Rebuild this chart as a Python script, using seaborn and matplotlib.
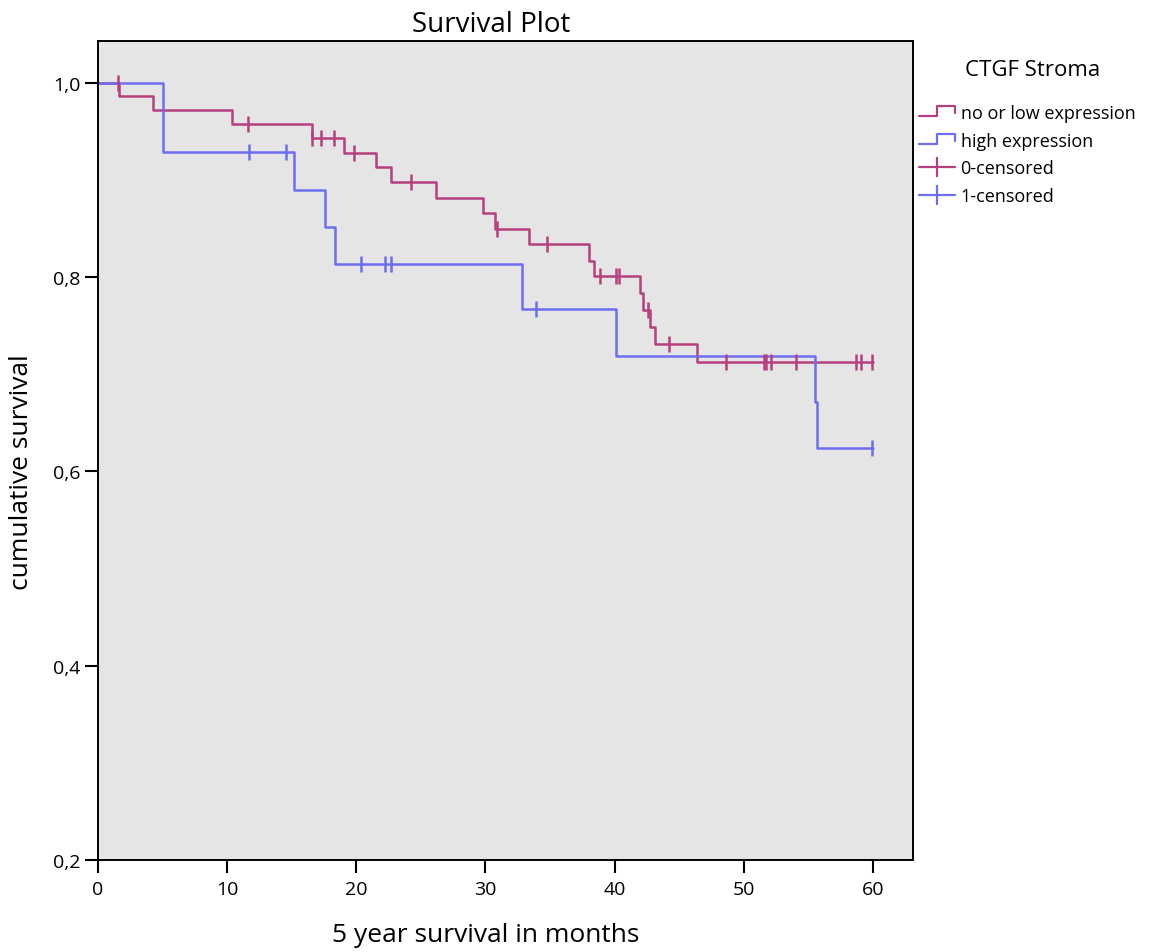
import numpy as np
import pandas as pd
import matplotlib
matplotlib.use("Agg")
import matplotlib.pyplot as plt
import seaborn as sns
from matplotlib.lines import Line2D
from matplotlib.legend_handler import HandlerBase

# ---- data ----
groups = ["no or low expression", "high expression"]

low_times = [0, 1.65, 4.28, 10.35, 16.6, 19.04, 21.5, 22.7, 26.2, 29.8, 30.7,
             33.4, 38.0, 38.4, 41.97, 42.2, 42.7, 43.1, 46.4, 60.0]
low_surv = [1.0, 0.986, 0.9715, 0.958, 0.9434, 0.928, 0.913, 0.8978, 0.881, 0.866,
            0.8497, 0.834, 0.817, 0.8013, 0.7838, 0.7666, 0.7485, 0.731, 0.7124, 0.7124]
low_censored = [1.57, 11.6, 16.6, 17.3, 18.3, 19.8, 24.2, 30.9, 34.8, 38.86, 40.1,
                40.3, 42.6, 44.2, 48.6, 51.55, 51.7, 52.07, 54.05, 58.7, 59.1, 59.9]

high_times = [0, 5.06, 15.17, 17.6, 18.37, 32.85, 40.1, 55.5, 55.7, 60.0]
high_surv = [1.0, 0.929, 0.89, 0.8514, 0.813, 0.7673, 0.719, 0.671, 0.624, 0.624]
high_censored = [11.7, 14.55, 20.4, 22.2, 22.7, 33.9, 59.9]

x_ticks = [0, 10, 20, 30, 40, 50, 60]
y_ticks = [0.2, 0.4, 0.6, 0.8, 1.0]
y_tick_labels = ["0,2", "0,4", "0,6", "0,8", "1,0"]

colors = {"no or low expression": "#b63f7e", "high expression": "#6e6ef2"}


def level_at(times, surv, t):
    idx = np.searchsorted(times, t, side="right") - 1
    return surv[idx]


curves = pd.concat([
    pd.DataFrame({"time": low_times, "surv": low_surv, "group": groups[0]}),
    pd.DataFrame({"time": high_times, "surv": high_surv, "group": groups[1]}),
], ignore_index=True)

cens = pd.concat([
    pd.DataFrame({"time": low_censored,
                  "surv": [level_at(low_times, low_surv, t) for t in low_censored],
                  "group": groups[0]}),
    pd.DataFrame({"time": high_censored,
                  "surv": [level_at(high_times, high_surv, t) for t in high_censored],
                  "group": groups[1]}),
], ignore_index=True)

# ---- style ----
sns.set_theme(style="white")
plt.rcParams["font.family"] = ["Open Sans", "DejaVu Sans"]
plt.rcParams["text.color"] = "black"
plt.rcParams["axes.labelcolor"] = "black"
plt.rcParams["xtick.color"] = "black"
plt.rcParams["ytick.color"] = "black"

fig = plt.figure(figsize=(11.58, 9.53), dpi=100)
ax = fig.add_axes([98 / 1158, 92 / 953, 815 / 1158, 819 / 953])
ax.set_facecolor("#e5e5e5")

sns.lineplot(data=curves, x="time", y="surv", hue="group", palette=colors,
             estimator=None, sort=False, drawstyle="steps-post", linewidth=1.8,
             legend=False, ax=ax)
for g in groups:
    sub = cens[cens["group"] == g]
    ax.plot(sub["time"], sub["surv"], linestyle="none", marker="|",
            markersize=11, markeredgewidth=1.8, color=colors[g])

ax.set_xlim(0, 63.1)
ax.set_ylim(0.2, 1.043)
ax.set_xticks(x_ticks)
ax.set_xticklabels([str(v) for v in x_ticks])
ax.set_yticks(y_ticks)
ax.set_yticklabels(y_tick_labels)
ax.tick_params(axis="both", direction="out", length=9.5, width=1.5, colors="black",
               labelsize=14, left=True, bottom=True)
ax.tick_params(axis="x", pad=5)
ax.tick_params(axis="y", pad=3)
for s in ax.spines.values():
    s.set_visible(True)
    s.set_color("black")
    s.set_linewidth(1.4)

ax.set_title("Survival Plot", fontsize=20, pad=7, x=0.482)
ax.set_xlabel("5 year survival in months", fontsize=19)
ax.xaxis.set_label_coords(0.476, -0.076)
ax.set_ylabel("cumulative survival", fontsize=19)
ax.yaxis.set_label_coords(-0.079, 0.475)


# ---- legend with step-shaped icons ----
class StepHandler(HandlerBase):
    def __init__(self, color):
        super().__init__()
        self.color = color

    def create_artists(self, legend, orig_handle, xdescent, ydescent, width,
                       height, fontsize, trans):
        x0, x1 = -xdescent, -xdescent + width
        yl, yh = -ydescent + 0.15 * height, -ydescent + 0.95 * height
        xm = x0 + 0.5 * width
        ln = Line2D([x0, xm, xm, x1, x1], [yl, yl, yh, yh, yl + 0.2 * height],
                    color=self.color, linewidth=1.6, transform=trans)
        return [ln]


h_low = Line2D([], [], color=colors[groups[0]])
h_high = Line2D([], [], color=colors[groups[1]])
h_c0 = Line2D([], [], color=colors[groups[0]], marker="|", markersize=14,
              markeredgewidth=1.6, linewidth=1.6)
h_c1 = Line2D([], [], color=colors[groups[1]], marker="|", markersize=14,
              markeredgewidth=1.6, linewidth=1.6)

leg = fig.legend([h_low, h_high, h_c0, h_c1],
                 ["no or low expression", "high expression", "0-censored", "1-censored"],
                 handler_map={h_low: StepHandler(colors[groups[0]]),
                              h_high: StepHandler(colors[groups[1]])},
                 loc="upper left", bbox_to_anchor=(919 / 1158, 1 - 60 / 953),
                 frameon=False, fontsize=13, title="CTGF Stroma", title_fontsize=16,
                 handlelength=2.0, handletextpad=0.3, labelspacing=0.55,
                 borderaxespad=0, borderpad=0)
leg._legend_box.align = "left"
leg.get_title().set_position((46, 0))
leg._legend_box.sep = 17

fig.savefig("out.png", dpi=100)
